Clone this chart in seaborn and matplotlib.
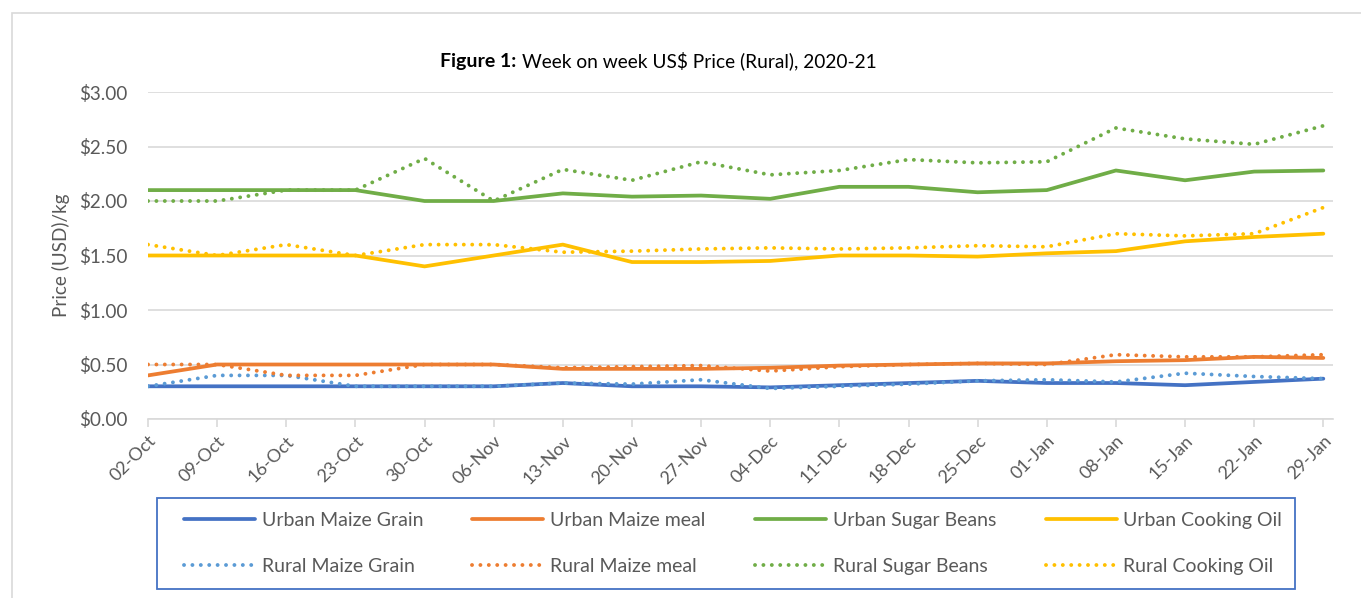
import pandas as pd
import matplotlib.pyplot as plt
import seaborn as sns
from matplotlib.patches import Rectangle
from matplotlib.ticker import FuncFormatter

weeks = ['02-Oct', '09-Oct', '16-Oct', '23-Oct', '30-Oct', '06-Nov', '13-Nov', '20-Nov', '27-Nov',
         '04-Dec', '11-Dec', '18-Dec', '25-Dec', '01-Jan', '08-Jan', '15-Jan', '22-Jan', '29-Jan']

urban_maize_grain = [0.30, 0.30, 0.30, 0.30, 0.30, 0.30, 0.33, 0.30, 0.30, 0.29, 0.31, 0.33, 0.35, 0.33, 0.33, 0.31, 0.34, 0.37]
urban_maize_meal = [0.40, 0.50, 0.50, 0.50, 0.50, 0.50, 0.46, 0.46, 0.46, 0.47, 0.49, 0.50, 0.51, 0.51, 0.53, 0.54, 0.57, 0.56]
urban_sugar_beans = [2.10, 2.10, 2.10, 2.10, 2.00, 2.00, 2.07, 2.04, 2.05, 2.02, 2.13, 2.13, 2.08, 2.10, 2.28, 2.19, 2.27, 2.28]
urban_cooking_oil = [1.50, 1.50, 1.50, 1.50, 1.40, 1.50, 1.60, 1.44, 1.44, 1.45, 1.50, 1.50, 1.49, 1.52, 1.54, 1.63, 1.67, 1.70]
rural_maize_grain = [0.30, 0.40, 0.40, 0.30, 0.30, 0.30, 0.33, 0.32, 0.36, 0.28, 0.30, 0.32, 0.35, 0.36, 0.34, 0.42, 0.39, 0.37]
rural_maize_meal = [0.50, 0.50, 0.40, 0.40, 0.50, 0.50, 0.47, 0.48, 0.49, 0.44, 0.48, 0.50, 0.51, 0.50, 0.59, 0.57, 0.57, 0.59]
rural_sugar_beans = [2.00, 2.00, 2.10, 2.10, 2.39, 2.00, 2.29, 2.19, 2.36, 2.24, 2.28, 2.38, 2.35, 2.36, 2.67, 2.57, 2.52, 2.69]
rural_cooking_oil = [1.60, 1.50, 1.60, 1.50, 1.60, 1.60, 1.53, 1.54, 1.56, 1.57, 1.56, 1.57, 1.59, 1.58, 1.70, 1.68, 1.70, 1.94]

series = {
    'Urban Maize Grain': urban_maize_grain,
    'Urban Maize meal': urban_maize_meal,
    'Urban Sugar Beans': urban_sugar_beans,
    'Urban Cooking Oil': urban_cooking_oil,
    'Rural Maize Grain': rural_maize_grain,
    'Rural Maize meal': rural_maize_meal,
    'Rural Sugar Beans': rural_sugar_beans,
    'Rural Cooking Oil': rural_cooking_oil,
}
colors = {
    'Urban Maize Grain': '#4472C4', 'Urban Maize meal': '#ED7D31',
    'Urban Sugar Beans': '#70AD47', 'Urban Cooking Oil': '#FFC000',
    'Rural Maize Grain': '#5B9BD5', 'Rural Maize meal': '#ED7D31',
    'Rural Sugar Beans': '#70AD47', 'Rural Cooking Oil': '#FFC000',
}

rows = []
for name, vals in series.items():
    for i, v in enumerate(vals):
        rows.append({'week': i, 'price': v, 'series': name})
df = pd.DataFrame(rows)

sns.set_theme(style="white")
plt.rcParams['font.family'] = ['Lato', 'DejaVu Sans']
text_grey = '#595959'
W, H = 1361, 598

fig = plt.figure(figsize=(13.61, 5.98), dpi=100)
ax = fig.add_axes([148 / W, 1 - 419 / H, (1333 - 148) / W, (419 - 92) / H])

for name in series:
    d = df[df['series'] == name]
    if name.startswith('Urban'):
        sns.lineplot(data=d, x='week', y='price', ax=ax, color=colors[name], lw=2.7,
                     label=name, solid_capstyle='round')
    else:
        line = sns.lineplot(data=d, x='week', y='price', ax=ax, color=colors[name], lw=2.8,
                            label=name).lines[-1]
        line.set_linestyle((0, (0.01, 2.15)))
        line.set_dash_capstyle('round')

ax.set_xlim(0, 17.14)
ax.set_ylim(0, 3.0)
ax.set_yticks([0, 0.5, 1.0, 1.5, 2.0, 2.5, 3.0])
ax.yaxis.set_major_formatter(FuncFormatter(lambda v, p: f'${v:.2f}'))
ax.set_xticks(range(len(weeks)))
ax.set_xticklabels(weeks, rotation=45, ha='right', rotation_mode='anchor')
ax.grid(axis='y', color='#D9D9D9', lw=1.2)
ax.set_axisbelow(True)
for s in ['top', 'right', 'left']:
    ax.spines[s].set_visible(False)
ax.spines['bottom'].set_color('#D9D9D9')
ax.spines['bottom'].set_linewidth(1.2)
ax.tick_params(axis='x', which='major', bottom=True, length=6, color='#D9D9D9', width=1.2,
               labelsize=13, labelcolor=text_grey, pad=4)
ax.tick_params(axis='y', length=0, labelsize=13.6, labelcolor=text_grey, pad=15)
ax.set_xlabel('')
ax.set_ylabel('Price (USD)/kg', fontsize=13.6, color=text_grey, labelpad=6)

# title with bold prefix
fig.text(516 / W, 1 - 67 / H, 'Figure 1:', fontsize=14, fontweight='bold', ha='right', va='baseline', color='black')
fig.text(522 / W, 1 - 67 / H, 'Week on week US$ Price (Rural), 2020-21', fontsize=13.8, ha='left', va='baseline', color='black')

# legend: urban row on top, rural row below
handles, labels = ax.get_legend_handles_labels()
ax.get_legend().remove()
order = [0, 4, 1, 5, 2, 6, 3, 7]
leg = fig.legend([handles[i] for i in order], [labels[i] for i in order], ncol=4,
                 loc='center', bbox_to_anchor=(174 / W, 1 - 589 / H, (1292 - 174) / W, (589 - 498) / H),
                 mode='expand', fontsize=14, handlelength=3.65, handletextpad=0.35,
                 labelspacing=1.48, frameon=False, borderpad=0.5, borderaxespad=0)
for t in leg.get_texts():
    t.set_color(text_grey)

# legend box and outer chart frame
fig.patches.append(Rectangle((157 / W, 1 - 589 / H), (1295 - 157) / W, (589 - 498) / H,
                             transform=fig.transFigure, fill=False, edgecolor='#4472C4', lw=1.3))
fig.patches.append(Rectangle((12 / W, -0.1), 2, 1.1 - 13 / H, transform=fig.transFigure,
                             fill=False, edgecolor='#D9D9D9', lw=1.2))

fig.savefig('out.png', dpi=100)
